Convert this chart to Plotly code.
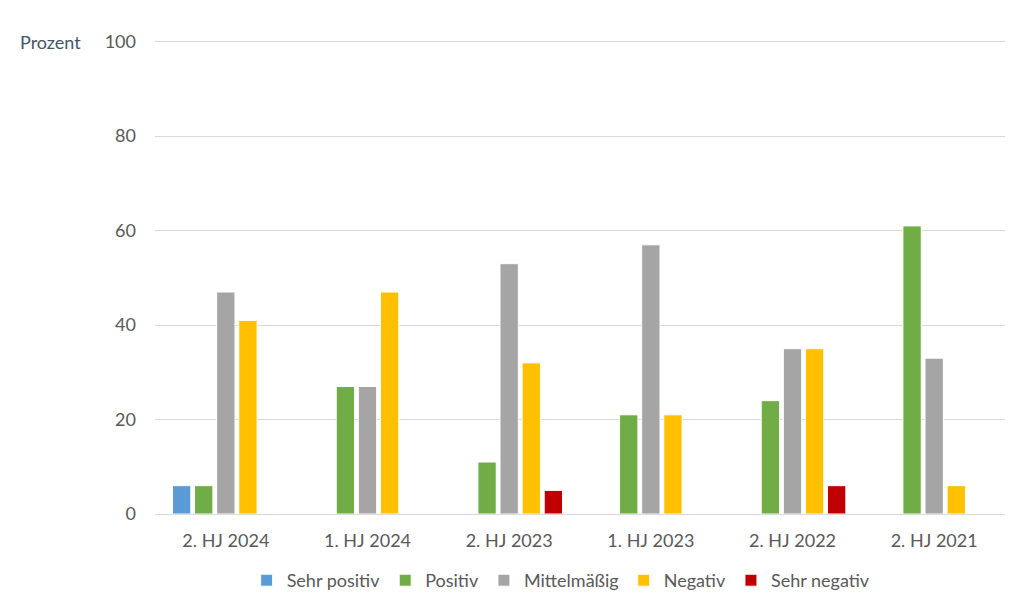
import plotly.graph_objects as go

categories = ["2. HJ 2024", "1. HJ 2024", "2. HJ 2023", "1. HJ 2023", "2. HJ 2022", "2. HJ 2021"]
sehr_positiv = [6, 0, 0, 0, 0, 0]
positiv = [6, 27, 11, 21, 24, 61]
mittelmaessig = [47, 27, 53, 57, 35, 33]
negativ = [41, 47, 32, 21, 35, 6]
sehr_negativ = [0, 0, 5, 0, 6, 0]
y_ticks = [0, 20, 40, 60, 80, 100]

series = [
    ("Sehr positiv", sehr_positiv, "#5B9BD5"),
    ("Positiv", positiv, "#70AD47"),
    ("Mittelmäßig", mittelmaessig, "#A5A5A5"),
    ("Negativ", negativ, "#FFC000"),
    ("Sehr negativ", sehr_negativ, "#C00000"),
]

FONT = "Lato, 'Open Sans', sans-serif"

fig = go.Figure()
for name, vals, color in series:
    fig.add_trace(go.Bar(
        x=categories, y=vals, name=name,
        marker=dict(color=color, line=dict(color="white", width=1)),
    ))

fig.update_layout(
    width=1024, height=602,
    barmode="group", bargap=0.22, bargroupgap=0.17,
    plot_bgcolor="white", paper_bgcolor="white",
    margin=dict(l=155, r=19, t=37, b=88),
    font=dict(family=FONT, size=18, color="#595959"),
    showlegend=True,
    legend=dict(orientation="h", xref="container", x=0.548, xanchor="center",
                yref="container", y=0.005, yanchor="bottom",
                font=dict(size=18, color="#595959"), traceorder="normal",
                itemwidth=30),
    xaxis=dict(showgrid=False, showline=True, linecolor="#D9D9D9", linewidth=1,
               ticks="", ticklabelstandoff=10, tickfont=dict(size=18, color="#595959")),
    yaxis=dict(range=[0, 101], tickvals=y_ticks, showgrid=True, gridcolor="#D9D9D9",
               gridwidth=1, zeroline=False, showline=False, ticks="",
               ticklabelstandoff=18, tickfont=dict(size=18, color="#595959")),
    annotations=[dict(text="Prozent", xref="paper", yref="y", x=0, y=100,
                      xshift=-137, xanchor="left", yanchor="middle", showarrow=False,
                      font=dict(family=FONT, size=18, color="#44546A"))],
)

fig.write_html("out.html")
